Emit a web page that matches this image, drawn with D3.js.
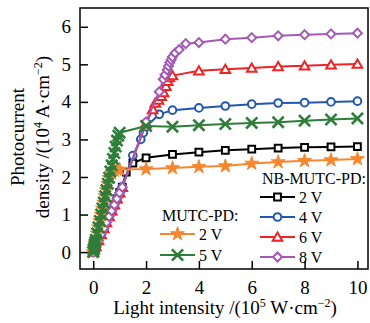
<!DOCTYPE html>
<html>
<head>
<meta charset="utf-8">
<script src="https://cdn.jsdelivr.net/npm/d3@7"></script>
<style>
  html, body { margin: 0; padding: 0; background: #fff; }
  svg { display: block; }
  text { font-family: "Liberation Serif", "Times New Roman", serif; fill: #000; }
</style>
</head>
<body>
<svg id="chart" width="370" height="323"></svg>
<script>
// ---------------- data ----------------
const xTicks = [0, 2, 4, 6, 8, 10];
const yTicks = [0, 1, 2, 3, 4, 5, 6];

// NB-MUTC-PD 2 V
const nb2X = [0, 0.03, 0.1, 0.2, 0.3, 0.4, 0.5, 0.6, 0.7, 0.8, 0.9, 1.0, 1.1, 1.25, 1.5, 2, 3, 4, 5, 6, 7, 8, 9, 10];
const nb2Y = [0, 0.04, 0.15, 0.31, 0.47, 0.63, 0.79, 0.95, 1.1, 1.26, 1.42, 1.58, 1.73, 2.13, 2.37, 2.51, 2.6, 2.66, 2.71, 2.74, 2.77, 2.79, 2.8, 2.81];
// NB-MUTC-PD 4 V
const nb4X = [0, 0.03, 0.1, 0.2, 0.3, 0.4, 0.5, 0.6, 0.7, 0.8, 0.9, 1.0, 1.1, 1.5, 1.8, 1.9, 2, 2.5, 3, 4, 5, 6, 7, 8, 9, 10];
const nb4Y = [0, 0.04, 0.15, 0.31, 0.47, 0.63, 0.79, 0.95, 1.1, 1.26, 1.42, 1.58, 1.73, 2.57, 3.0, 3.18, 3.34, 3.67, 3.78, 3.84, 3.89, 3.94, 3.97, 3.98, 4.0, 4.02];
// NB-MUTC-PD 6 V
const nb6X = [0, 0.03, 0.1, 0.2, 0.3, 0.4, 0.5, 0.6, 0.7, 0.8, 0.9, 1.0, 1.1, 2.0, 2.25, 2.35, 2.47, 2.57, 2.66, 2.75, 2.82, 2.88, 3.0, 4, 5, 6, 7, 8, 9, 10];
const nb6Y = [0, 0.04, 0.15, 0.31, 0.47, 0.63, 0.79, 0.95, 1.1, 1.26, 1.42, 1.58, 1.73, 3.42, 3.8, 3.97, 4.05, 4.15, 4.25, 4.42, 4.55, 4.65, 4.7, 4.83, 4.87, 4.9, 4.94, 4.96, 4.99, 5.01];
// NB-MUTC-PD 8 V
const nb8X = [0, 0.03, 0.1, 0.2, 0.3, 0.4, 0.5, 0.6, 0.7, 0.8, 0.9, 1.0, 1.1, 2.0, 2.5, 2.65, 2.72, 2.8, 2.85, 2.9, 2.95, 3.0, 3.1, 3.25, 3.5, 4, 5, 6, 7, 8, 9, 10];
const nb8Y = [0, 0.04, 0.15, 0.31, 0.47, 0.63, 0.79, 0.95, 1.1, 1.26, 1.42, 1.58, 1.73, 3.47, 4.27, 4.6, 4.72, 4.85, 4.95, 5.05, 5.12, 5.2, 5.3, 5.39, 5.55, 5.58, 5.67, 5.71, 5.76, 5.79, 5.81, 5.83];
// MUTC-PD 2 V
const mu2X = [0, 0.02, 0.04, 0.06, 0.08, 0.1, 0.15, 0.2, 0.25, 0.3, 0.35, 0.4, 0.45, 0.5, 0.55, 0.6, 0.7, 0.8, 0.9, 1.0, 2, 3, 4, 5, 6, 7, 8, 9, 10];
const mu2Y = [0, 0.07, 0.13, 0.2, 0.26, 0.33, 0.5, 0.66, 0.83, 1.0, 1.16, 1.32, 1.49, 1.65, 1.82, 1.98, 2.1, 2.17, 2.2, 2.2, 2.21, 2.24, 2.27, 2.29, 2.36, 2.4, 2.43, 2.45, 2.48];
// MUTC-PD 5 V
const mu5X = [0, 0.02, 0.04, 0.06, 0.08, 0.1, 0.15, 0.2, 0.25, 0.3, 0.35, 0.4, 0.45, 0.5, 0.55, 0.6, 0.65, 0.7, 0.75, 0.8, 0.85, 0.9, 0.95, 1.0, 2, 3, 4, 5, 6, 7, 8, 9, 10];
const mu5Y = [0, 0.07, 0.13, 0.2, 0.26, 0.33, 0.5, 0.66, 0.83, 1.0, 1.16, 1.32, 1.49, 1.65, 1.82, 1.98, 2.15, 2.31, 2.48, 2.64, 2.81, 2.97, 3.1, 3.18, 3.36, 3.34, 3.38, 3.41, 3.44, 3.46, 3.5, 3.53, 3.56];

const nbNames = ["2 V", "4 V", "6 V", "8 V"];
const muNames = ["2 V", "5 V"];

// ---------------- layout ----------------
const svg = d3.select("#chart");
const L = 80, R = 368, T = 8, B = 269;
const x = d3.scaleLinear().domain([-0.5, 10.4]).range([L, R]);
const y = d3.scaleLinear().domain([-0.45, 6.5]).range([B, T]);

const COL = {
  black: "#000000", blue: "#2158ad", red: "#ee2326",
  purple: "#a25ab5", orange: "#f5882f", green: "#2e7d3a"
};

// marker generators
function shapePath(kind) {
  switch (kind) {
    case "square": return d3.symbol().type(d3.symbolSquare).size(46)();
    case "circle": return d3.symbol().type(d3.symbolCircle).size(46)();
    case "triangle": return d3.symbol().type(d3.symbolTriangle).size(40)();
    case "diamond": return d3.symbol().type(d3.symbolSquare).size(40)();
    case "star": return d3.symbol().type(d3.symbolStar).size(60)();
    case "x": {
      const s = 5.6;
      return `M${-s},${-s}L${s},${s}M${-s},${s}L${s},${-s}`;
    }
  }
}

const series = [
  { xs: nb2X, ys: nb2Y, color: COL.black, shape: "square" },
  { xs: nb4X, ys: nb4Y, color: COL.blue, shape: "circle" },
  { xs: nb6X, ys: nb6Y, color: COL.red, shape: "triangle" },
  { xs: nb8X, ys: nb8Y, color: COL.purple, shape: "diamond" },
  { xs: mu2X, ys: mu2Y, color: COL.orange, shape: "star" },
  { xs: mu5X, ys: mu5Y, color: COL.green, shape: "x" }
];

function drawMarker(g, kind, color, cx, cy) {
  const p = g.append("path")
    .attr("d", shapePath(kind))
    .attr("transform", `translate(${cx},${cy})` + (kind === "diamond" ? " rotate(45)" : "") + (kind === "triangle" ? " translate(0,1)" : ""));
  if (kind === "star") {
    p.attr("fill", color).attr("stroke", color).attr("stroke-width", 1);
  } else if (kind === "x") {
    p.attr("fill", "none").attr("stroke", color).attr("stroke-width", 2.6);
  } else {
    p.attr("fill", "#fff").attr("stroke", color).attr("stroke-width", 2);
  }
}

const plot = svg.append("g");
const line = d3.line().x(d => x(d[0])).y(d => y(d[1]));

series.forEach(s => {
  const pts = s.xs.map((v, i) => [v, s.ys[i]]);
  const g = plot.append("g");
  g.append("path").attr("d", line(pts)).attr("fill", "none")
    .attr("stroke", s.color).attr("stroke-width", 2);
  pts.forEach(p => drawMarker(g, s.shape, s.color, x(p[0]), y(p[1])));
});

// frame
svg.append("rect").attr("x", L).attr("y", T).attr("width", R - L).attr("height", B - T)
  .attr("fill", "none").attr("stroke", "#000").attr("stroke-width", 1.5);

// axes (inward ticks)
const xAxis = svg.append("g").attr("transform", `translate(0,${B})`)
  .call(d3.axisBottom(x).tickValues(xTicks).tickSize(-8).tickPadding(12).tickFormat(d3.format("d")));
const yAxis = svg.append("g").attr("transform", `translate(${L},0)`)
  .call(d3.axisLeft(y).tickValues(yTicks).tickSize(-8).tickPadding(16).tickFormat(d3.format("d")));
[xAxis, yAxis].forEach(a => {
  a.select(".domain").remove();
  a.selectAll(".tick line").attr("stroke", "#000").attr("stroke-width", 1.5);
  a.selectAll(".tick text").style("font-family", '"Liberation Serif", serif').style("font-size", "19px").attr("fill", "#000");
});
xAxis.selectAll(".tick text").attr("y", 12);
yAxis.selectAll(".tick text").attr("x", -9);

// axis titles
const xt = svg.append("text").attr("x", 225).attr("y", 314).attr("text-anchor", "middle").style("font-size", "19px");
xt.append("tspan").text("Light intensity /(10");
xt.append("tspan").attr("dy", -7).style("font-size", "12px").text("5");
xt.append("tspan").attr("dy", 7).text(" W\u00b7cm");
xt.append("tspan").attr("dy", -7).style("font-size", "12px").text("\u22122");
xt.append("tspan").attr("dy", 7).text(")");

const yt1 = svg.append("text").attr("transform", "translate(24,137) rotate(-90)")
  .attr("text-anchor", "middle").style("font-size", "19px").text("Photocurrent");
const yt2 = svg.append("text").attr("transform", "translate(49,137) rotate(-90)")
  .attr("text-anchor", "middle").style("font-size", "19px");
yt2.append("tspan").text("density /(10");
yt2.append("tspan").attr("dy", -7).style("font-size", "12px").text("4");
yt2.append("tspan").attr("dy", 7).text(" A\u00b7cm");
yt2.append("tspan").attr("dy", -7).style("font-size", "12px").text("\u22122");
yt2.append("tspan").attr("dy", 7).text(")");

// legends
function legendItem(kind, color, lx, ly, label) {
  const g = svg.append("g");
  g.append("line").attr("x1", lx).attr("x2", lx + 35).attr("y1", ly).attr("y2", ly)
    .attr("stroke", color).attr("stroke-width", 2);
  drawMarker(g, kind, color, lx + 17.5, ly);
  g.append("text").attr("x", lx + 39).attr("y", ly + 5.5).style("font-size", "16px").text(label);
}

svg.append("text").attr("x", 262).attr("y", 184).style("font-size", "16px").text("NB-MUTC-PD:");
const nbShapes = ["square", "circle", "triangle", "diamond"];
const nbCols = [COL.black, COL.blue, COL.red, COL.purple];
nbNames.forEach((n, i) => legendItem(nbShapes[i], nbCols[i], 260, 197 + i * 20, n));

svg.append("text").attr("x", 162).attr("y", 221).style("font-size", "16px").text("MUTC-PD:");
const muShapes = ["star", "x"];
const muCols = [COL.orange, COL.green];
muNames.forEach((n, i) => legendItem(muShapes[i], muCols[i], 160, 234 + i * 21, n));
</script>
</body>
</html>
